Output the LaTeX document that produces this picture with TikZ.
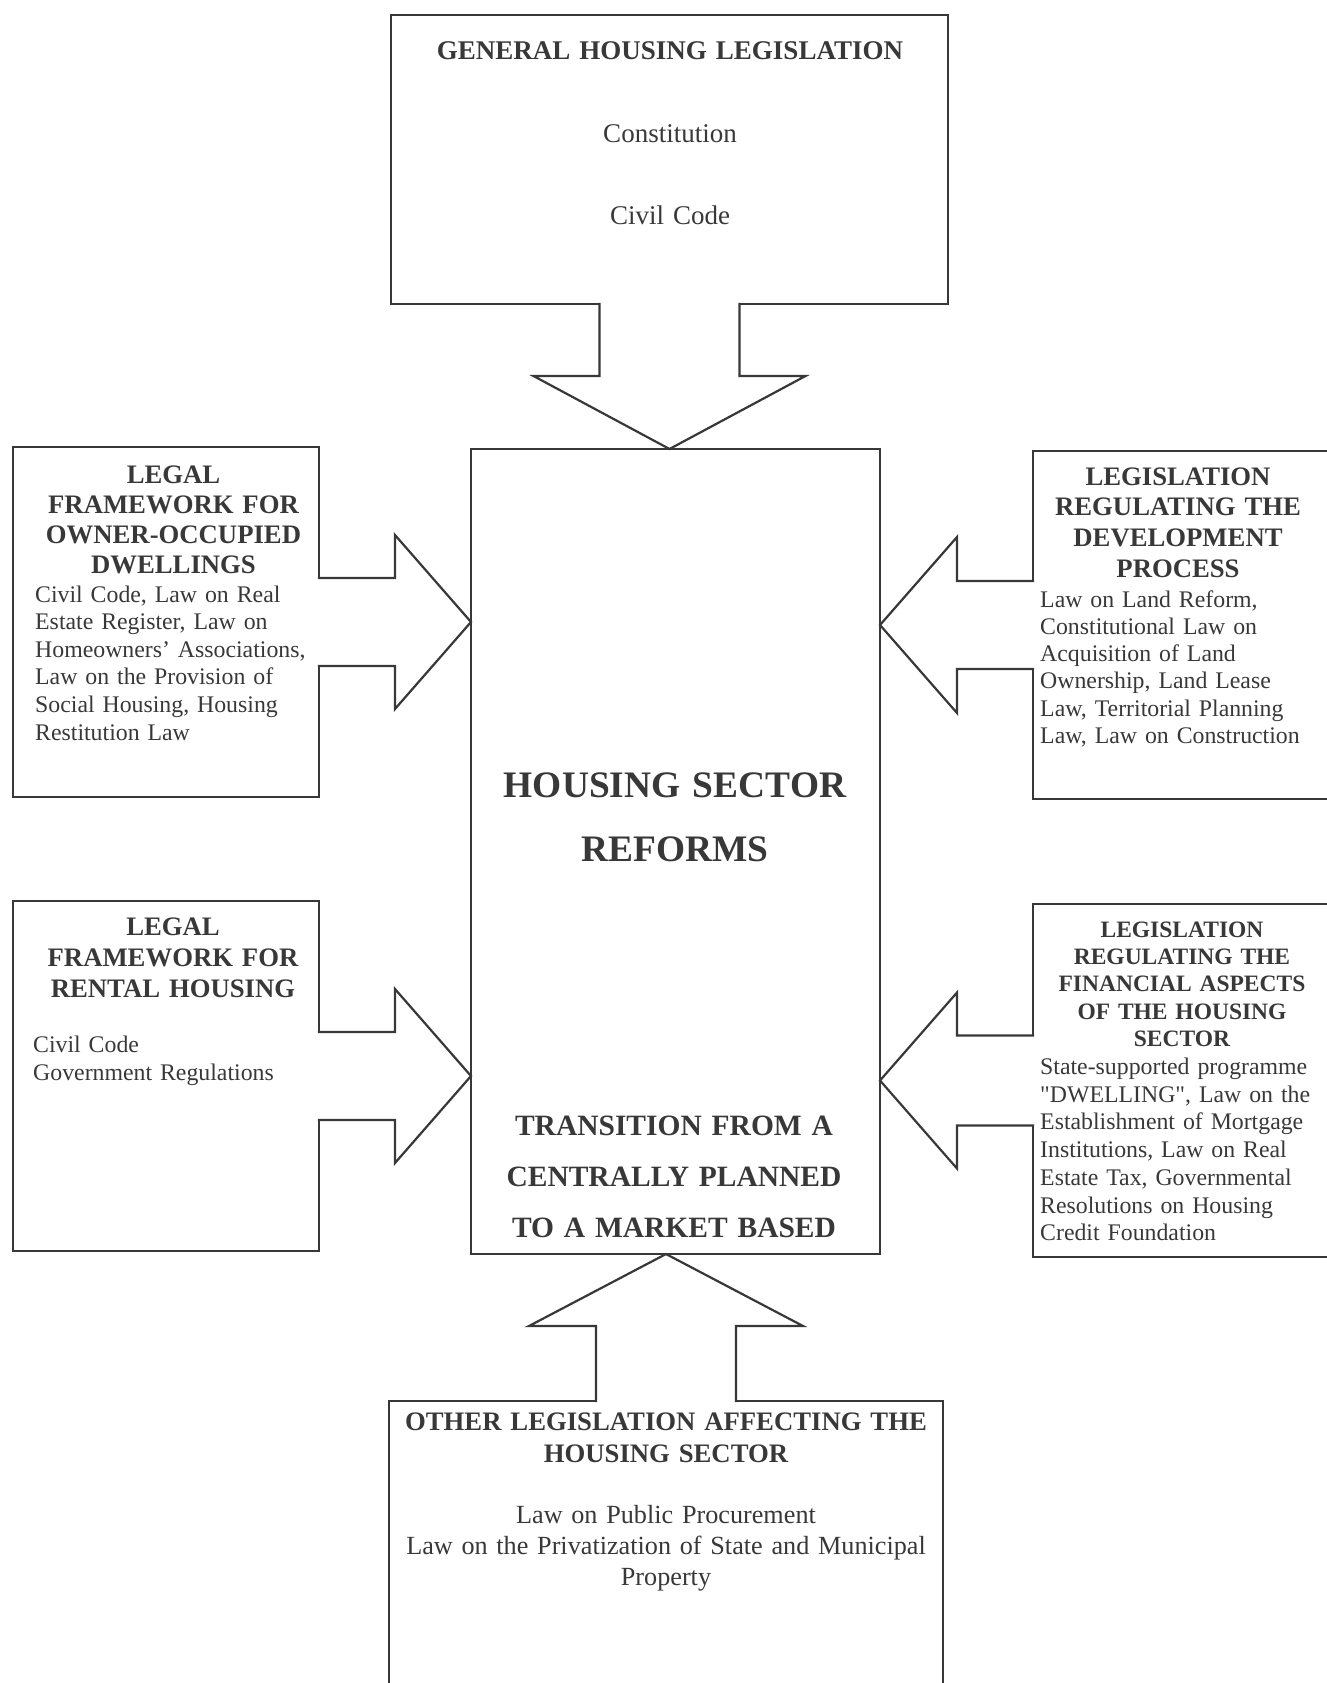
\documentclass[tikz,border=0pt]{standalone}
\usepackage{fontspec}
\setmainfont{Liberation Serif}
\usetikzlibrary{calc}

\definecolor{inkgray}{rgb}{0.22,0.22,0.22}
% straight double quote, kept out of the TeX ligature mapping
\newcommand\straightquote{\XeTeXglyph\XeTeXcharglyph"22\relax}

\begin{document}
\begin{tikzpicture}[x=1pt, y=-1pt,
    panel/.style={draw=inkgray, line width=2.2pt, rectangle, inner sep=0pt, outer sep=0pt},
    bigarrow/.style={draw=inkgray, fill=white, line width=2.2pt, line join=miter},
    head/.style={inner sep=0pt, text=inkgray, align=center, anchor=base, text width=300pt,
                 font=\fontsize{26.7}{30.5}\selectfont\bfseries},
    laws/.style={inner sep=0pt, text=inkgray, align=left, anchor=base west, text width=300pt,
                 font=\fontsize{23.8}{27.6}\selectfont}]
    \useasboundingbox (0,0) rectangle (1327,1683);

    % boxes
    \node[panel, minimum width=557pt, minimum height=289pt] (gen) at (669.5,159.5) {};
    \node[panel, minimum width=409pt, minimum height=805pt] (hub) at (675.5,851.5) {};
    \node[panel, minimum width=306pt, minimum height=350pt] (own) at (166,622) {};
    \node[panel, minimum width=306pt, minimum height=350pt] (rent) at (166,1076) {};
    \node[panel, minimum width=307pt, minimum height=348pt] (dev) at (1186.5,625) {};
    \node[panel, minimum width=307pt, minimum height=353pt] (fin) at (1186.5,1080.5) {};
    \node[panel, minimum width=554pt, minimum height=299pt] (other) at (666,1550.5) {};

    % block arrows into the hub
    \draw[bigarrow] ($(gen.south)+(-70,-1.2)$) -- ($(gen.south)+(-70,72)$) -- ($(gen.south)+(-136,72)$)
        -- (gen.south |- hub.north) -- ($(gen.south)+(136,72)$) -- ($(gen.south)+(70,72)$) -- ($(gen.south)+(70,-1.2)$);
    \draw[bigarrow] ($(other.north)+(-70,1.2)$) -- ($(other.north)+(-70,-75)$) -- ($(other.north)+(-137,-75)$)
        -- (other.north |- hub.south) -- ($(other.north)+(137,-75)$) -- ($(other.north)+(70,-75)$) -- ($(other.north)+(70,1.2)$);
    \draw[bigarrow] ($(own.east)+(-1.2,-44)$) -- ($(own.east)+(76,-44)$) -- ($(own.east)+(76,-87)$)
        -- (hub.west |- own.east) -- ($(own.east)+(76,87)$) -- ($(own.east)+(76,44)$) -- ($(own.east)+(-1.2,44)$);
    \draw[bigarrow] ($(rent.east)+(-1.2,-44)$) -- ($(rent.east)+(76,-44)$) -- ($(rent.east)+(76,-87)$)
        -- (hub.west |- rent.east) -- ($(rent.east)+(76,87)$) -- ($(rent.east)+(76,44)$) -- ($(rent.east)+(-1.2,44)$);
    \draw[bigarrow] ($(dev.west)+(1.2,-44)$) -- ($(dev.west)+(-76,-44)$) -- ($(dev.west)+(-76,-88)$)
        -- (hub.east |- dev.west) -- ($(dev.west)+(-76,88)$) -- ($(dev.west)+(-76,44)$) -- ($(dev.west)+(1.2,44)$);
    \draw[bigarrow] ($(fin.west)+(1.2,-45)$) -- ($(fin.west)+(-76,-45)$) -- ($(fin.west)+(-76,-88)$)
        -- (hub.east |- fin.west) -- ($(fin.west)+(-76,88)$) -- ($(fin.west)+(-76,45)$) -- ($(fin.west)+(1.2,45)$);

    % texts
    \node[head, text width=540pt, font=\fontsize{27}{82.5}\selectfont] (gentext) at (670,60)
        {\textbf{GENERAL HOUSING LEGISLATION}\\Constitution\\Civil Code};
    \node[head, text width=400pt, font=\fontsize{37.4}{64}\selectfont\bfseries] (hubtitle) at (675,797)
        {HOUSING SECTOR\\REFORMS};
    \node[head, text width=400pt, font=\fontsize{29.5}{51}\selectfont\bfseries] (hubsub) at (674,1135)
        {TRANSITION FROM A\\CENTRALLY PLANNED\\TO A MARKET BASED};

    \node[head, font=\fontsize{26.7}{30}\selectfont\bfseries] (owntitle) at (173.5,483)
        {LEGAL\\FRAMEWORK FOR\\OWNER-OCCUPIED\\DWELLINGS};
    \node[laws] (ownlaws) at (35,602) {Civil Code, Law on Real\\Estate Register, Law on\\Homeowners' Associations,\\Law on the Provision of\\Social Housing, Housing\\Restitution Law};

    \node[head, font=\fontsize{26.7}{31}\selectfont\bfseries] (renttitle) at (173,935)
        {LEGAL\\FRAMEWORK FOR\\RENTAL HOUSING};
    \node[laws, font=\fontsize{23.8}{28}\selectfont] (rentlaws) at (33,1052) {Civil Code\\Government Regulations};

    \node[head, font=\fontsize{26.7}{30.7}\selectfont\bfseries] (devtitle) at (1178,485)
        {LEGISLATION\\REGULATING THE\\DEVELOPMENT\\PROCESS};
    \node[laws, font=\fontsize{23.8}{27.3}\selectfont] (devlaws) at (1040,607) {Law on Land Reform,\\Constitutional Law on\\Acquisition of Land\\Ownership, Land Lease\\Law, Territorial Planning\\Law, Law on Construction};

    \node[head, font=\fontsize{23.5}{27.4}\selectfont\bfseries] (fintitle) at (1182,937)
        {LEGISLATION\\REGULATING THE\\FINANCIAL ASPECTS\\OF THE HOUSING\\SECTOR};
    \node[laws, font=\fontsize{23.8}{27.7}\selectfont] (finlaws) at (1040,1074.5) {State-supported programme\\\straightquote DWELLING\straightquote, Law on the\\Establishment of Mortgage\\Institutions, Law on Real\\Estate Tax, Governmental\\Resolutions on Housing\\Credit Foundation};

    \node[head, text width=550pt, font=\fontsize{26.7}{32}\selectfont\bfseries] (othertitle) at (666,1430)
        {OTHER LEGISLATION AFFECTING THE\\HOUSING SECTOR};
    \node[head, text width=550pt, font=\fontsize{26.2}{31}\selectfont] (otherlaws) at (666,1523)
        {Law on Public Procurement\\Law on the Privatization of State and Municipal\\Property};
\end{tikzpicture}
\end{document}
